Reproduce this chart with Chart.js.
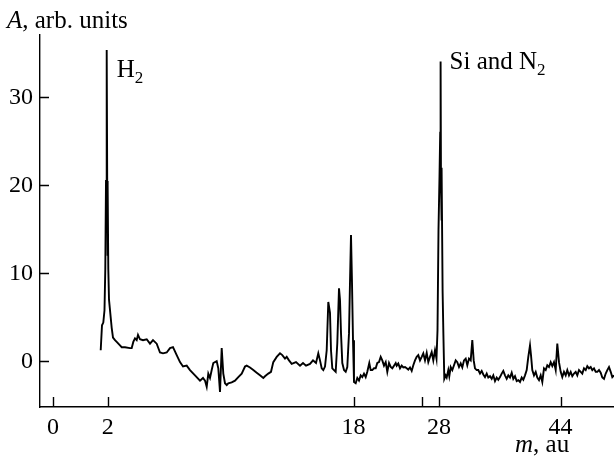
<!DOCTYPE html>
<html lang="en">
<head>
  <meta charset="UTF-8">
  <title>Mass spectrum</title>
  <style>
    body { margin: 0; background: #fff; }
    #wrap { width: 614px; height: 462px; }
  </style>
  <script src="https://cdn.jsdelivr.net/npm/chart.js"></script>
</head>
<body>
  <div id="wrap"><canvas id="spectrum" width="614" height="462"></canvas></div>

  <script>
    // analyser channel (flight time, arbitrary units) and signal amplitude
    const channel = [
      60.7, 62, 63.3, 64.5, 65.3, 66, 66.7, 67.2, 67.5, 67.8,
      68.3, 69, 71.7, 73, 75, 76.7, 80, 81.7, 85, 90,
      91.7, 93.3, 95, 96.7, 98, 100, 103, 106.7, 110, 113,
      116.7, 120, 123, 126.7, 130, 133, 136.7, 140, 143, 146.7,
      150, 155, 160, 163, 165, 166.7, 168.3, 170, 171.7, 173.3,
      175, 176.7, 178.3, 180, 181.7, 183.3, 185, 186.7, 188.3, 191.7,
      195, 198.3, 201.7, 205, 206.7, 210, 213.3, 216.7, 220, 223.3,
      225, 228.3, 231, 233.3, 236.7, 240, 242.3, 245, 246.7, 249,
      251.7, 256, 260, 263, 266, 270, 273, 276, 278.3, 280,
      281.7, 283.3, 285, 286.7, 288.3, 290, 291, 292.3, 294, 295.7,
      297.3, 299, 300, 301, 302.3, 304, 305.7, 307.3, 309, 310,
      311, 312, 313, 314, 315.7, 317.3, 319, 320.7, 322.3, 324,
      325.7, 327.3, 329.3, 330.7, 332.3, 334, 335.7, 337.3, 339, 340.7,
      342.3, 344, 345.7, 347.3, 349, 350.7, 352.3, 354, 355.7, 356.7,
      358.3, 360, 361.7, 363.3, 365, 366.7, 368.3, 370, 371.7, 373.3,
      375, 376.7, 378.3, 380, 381.7, 383.3, 385, 386.7, 388.3, 390,
      391.7, 393.3, 395, 396.5, 397.5, 398.5, 399.5, 400.2, 400.6, 401,
      401.4, 401.8, 402.6, 403.4, 404.3, 405.7, 406.7, 408.3, 409.3, 410.7,
      412.3, 414, 415.7, 417.3, 419, 420.7, 422.3, 424, 425.7, 427.3,
      429, 430.7, 432.3, 433.7, 435, 436.7, 438.3, 440, 441.7, 443.3,
      445, 446.7, 448.3, 450, 451.7, 453.3, 455, 456.7, 458.3, 460,
      461.7, 463.3, 465, 466.7, 468.3, 470, 471.7, 473.3, 475, 476.7,
      478.3, 480, 481.7, 483.3, 485, 486.7, 488.3, 490, 491, 492.3,
      494, 495.7, 497.3, 499, 500.7, 502.3, 504, 505.7, 507.3, 509,
      510.7, 512.3, 514, 515.7, 517.3, 519, 520.7, 522.3, 524, 525.7,
      527.3, 529, 530.7, 532.3, 534, 535.7, 537.3, 539, 540.7, 542.3,
      544, 545.7, 547.3, 549, 550.7, 552.3, 554, 555.7, 557.3, 559,
      560.7, 562.3, 564, 565.7, 567.3, 569, 570.7, 572.3, 574
    ];
    const amplitude = [
      1.25, 4.1, 4.4, 5.8, 10.5, 20.5, 35.4, 20.5, 12, 20,
      10.5, 7, 3.8, 2.7, 2.4, 2.2, 1.8, 1.6, 1.6, 1.5,
      1.5, 2.2, 2.6, 2.4, 3.0, 2.5, 2.4, 2.5, 2.0, 2.4,
      2.0, 1.0, 0.9, 1.0, 1.5, 1.6, 0.7, -0.1, -0.6, -0.5,
      -1.0, -1.6, -2.2, -1.9, -2.2, -2.9, -1.4, -1.9, -1.0, -0.2,
      -0.1, 0.0, -0.8, -3.5, 1.5, -1.4, -2.5, -2.7, -2.5, -2.4,
      -2.2, -1.8, -1.4, -0.6, -0.5, -0.7, -1.0, -1.3, -1.6, -1.9,
      -1.7, -1.4, -1.2, -0.1, 0.5, 0.9, 0.7, 0.3, 0.5, 0.1,
      -0.3, -0.1, -0.5, -0.2, -0.5, -0.3, 0.1, -0.2, 0.9, 0.1,
      -0.8, -1.0, -0.6, 1.25, 6.75, 5.5, 1.25, -0.8, -1.0, -1.2,
      2.05, 8.3, 6.95, 3.2, -0.2, -1.0, -1.2, -0.65, 3.2, 9.0,
      14.35, 8.9, 2.4, -2.35, -2.5, -1.9, -2.2, -1.6, -1.8, -1.4,
      -1.8, -1.2, -0.2, -1.0, -1.0, -0.8, -0.8, -0.2, -0.1, 0.5,
      0.1, -0.5, -0.1, -1.2, -0.2, -0.65, -0.8, -0.5, -0.2, -0.5,
      -0.25, -0.8, -0.5, -0.7, -0.65, -0.8, -0.95, -0.7, -1.1, -0.45,
      0.1, 0.5, 0.7, 0.1, 0.5, 0.9, 0.1, 0.95, -0.1, 0.5,
      1.05, 0.1, 1.25, 0.3, 3.5, 15, 21, 26, 34.1, 20,
      16, 22, 8, 3, -2.0, -1.6, -1.85, -1.0, -1.7, -0.65,
      -1.0, -0.45, 0.1, -0.1, -0.65, -0.25, -0.7, 0.1, 0.3, -0.45,
      0.3, 0.1, 2.4, 0.1, -0.8, -1.0, -1.0, -1.4, -1.1, -1.5,
      -1.8, -1.4, -1.85, -1.7, -2.0, -1.6, -2.25, -1.85, -2.1, -1.8,
      -1.4, -1.1, -1.6, -2.0, -1.6, -1.85, -1.3, -2.0, -1.7, -2.25,
      -2.15, -2.35, -1.85, -2.1, -1.6, -1.0, 0.5, 1.8, 0.7, -1.0,
      -1.6, -1.2, -1.85, -2.15, -1.6, -2.35, -0.8, -1.0, -0.45, -0.65,
      -0.1, -0.55, -0.1, -1.0, 2.0, -0.1, -1.2, -1.8, -1.2, -1.6,
      -1.0, -1.6, -1.2, -1.7, -1.4, -1.2, -1.6, -1.0, -1.2, -1.4,
      -0.8, -1.0, -0.55, -0.8, -0.65, -1.0, -0.8, -1.2, -1.2, -1.0,
      -1.3, -1.85, -2.0, -1.4, -1.0, -0.65, -1.2, -1.8, -1.6
    ];

    // mass ticks sit at the channel where each mass arrives
    const massTickChannels = [12.9, 67.7, 313.6, 381.7, 399, 520.5];
    const massTickLabels = ['0', '2', '18', '', '28', '44'];
    const ampTicks = [0, 10, 20, 30];

    // peak labels: main text, subscript, and the peak they belong to
    const peakNames = ['H', 'Si and N'];
    const peakSubs = ['2', '2'];
    const peakChannels = [66.7, 400.6];

    const serif = "'Liberation Serif', 'Times New Roman', serif";

    // tick marks point into the plot
    const inwardTicks = {
      id: 'inwardTicks',
      afterDraw(chart) {
        const { ctx, chartArea, scales: { x, y } } = chart;
        ctx.save();
        ctx.strokeStyle = '#000';
        ctx.lineWidth = 1.4;
        ctx.beginPath();
        massTickChannels.forEach(v => {
          const px = Math.round(x.getPixelForValue(v)) + 0.5;
          ctx.moveTo(px, chartArea.bottom);
          ctx.lineTo(px, chartArea.bottom - 10);
        });
        ampTicks.forEach(v => {
          const py = Math.round(y.getPixelForValue(v)) + 0.5;
          ctx.moveTo(chartArea.left, py);
          ctx.lineTo(chartArea.left + 9, py);
        });
        ctx.stroke();
        ctx.restore();
      }
    };

    // draw "italic + plain" or "plain + subscript" runs
    function drawRuns(ctx, x, y, runs) {
      runs.forEach(r => {
        ctx.font = (r.italic ? 'italic ' : '') + r.size + 'px ' + serif;
        ctx.fillText(r.text, x, y + (r.shift || 0));
        x += ctx.measureText(r.text).width;
      });
    }

    const textLabels = {
      id: 'textLabels',
      afterDraw(chart) {
        const { ctx, scales: { x, y } } = chart;
        ctx.save();
        ctx.fillStyle = '#000';
        ctx.textBaseline = 'alphabetic';
        ctx.textAlign = 'left';

        drawRuns(ctx, 7, 28, [
          { text: 'A', italic: true, size: 25 },
          { text: ', arb. units', size: 25 }
        ]);
        drawRuns(ctx, 515, 452, [
          { text: 'm', italic: true, size: 25 },
          { text: ', au', size: 25 }
        ]);

        const offsets = [[10, 27], [9, 8]];
        peakNames.forEach((name, i) => {
          const ch = peakChannels[i];
          const idx = channel.indexOf(ch);
          const px = x.getPixelForValue(ch) + offsets[i][0];
          const py = y.getPixelForValue(amplitude[idx]) + offsets[i][1];
          drawRuns(ctx, px, py, [
            { text: name, size: 25 },
            { text: peakSubs[i], size: 17, shift: 6 }
          ]);
        });
        ctx.restore();
      }
    };

    const points = channel.map((c, i) => ({ x: c, y: amplitude[i] }));

    new Chart(document.getElementById('spectrum'), {
      type: 'line',
      data: {
        datasets: [{
          data: points,
          borderColor: '#000',
          borderWidth: 1.9,
          pointRadius: 0,
          tension: 0,
          fill: false
        }]
      },
      options: {
        responsive: false,
        animation: false,
        layout: { padding: { top: 35, right: 0, bottom: 0, left: 0 } },
        plugins: {
          legend: { display: false },
          tooltip: { enabled: false }
        },
        scales: {
          x: {
            type: 'linear',
            min: 0,
            max: 574,
            grid: { display: false, drawTicks: false },
            border: { display: true, color: '#000', width: 1.4 },
            afterBuildTicks: s => { s.ticks = massTickChannels.map(v => ({ value: v })); },
            afterFit: s => { s.height = 55; },
            ticks: {
              autoSkip: false,
              maxRotation: 0,
              color: '#000',
              padding: 6,
              font: { family: serif, size: 24 },
              callback: (v, i) => massTickLabels[i]
            }
          },
          y: {
            min: -5.2,
            max: 37.1,
            grid: { display: false, drawTicks: false },
            border: { display: true, color: '#000', width: 1.4 },
            afterBuildTicks: s => { s.ticks = ampTicks.map(v => ({ value: v })); },
            afterFit: s => { s.width = 40; },
            ticks: {
              color: '#000',
              padding: 7,
              font: { family: serif, size: 24 },
              callback: v => String(v)
            }
          }
        }
      },
      plugins: [inwardTicks, textLabels]
    });
  </script>
</body>
</html>
